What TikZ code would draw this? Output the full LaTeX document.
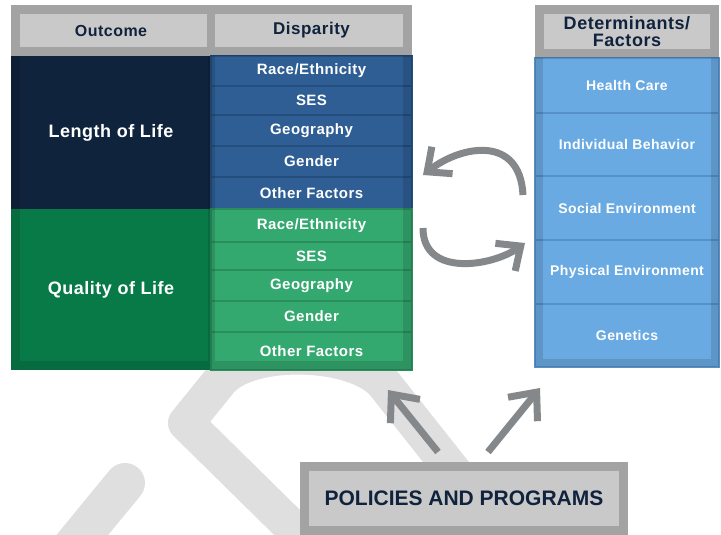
\documentclass[tikz,border=0pt]{standalone}
\usepackage{fontspec}
\setmainfont{Liberation Sans}
\newfontfamily\cellfont{Liberation Sans}[LetterSpace=3]
\usetikzlibrary{positioning, arrows.meta}
\definecolor{my_navy}{RGB}{16, 35, 61}
\definecolor{my_blue}{RGB}{46, 94, 147}
\definecolor{my_blueline}{RGB}{36, 78, 125}
\definecolor{my_darkgreen}{RGB}{7, 122, 72}
\definecolor{my_green}{RGB}{51, 168, 111}
\definecolor{my_greenline}{RGB}{42, 143, 93}
\definecolor{my_sky}{RGB}{106, 170, 226}
\definecolor{my_skyline}{RGB}{86, 144, 199}
\definecolor{my_hdr}{RGB}{201, 201, 201}
\definecolor{my_arrow}{RGB}{133, 136, 139}
\definecolor{my_mark}{RGB}{223, 223, 223}
\tikzset {
  hdr/.style = {fill=my_hdr, text=my_navy, inner sep=0pt, outer sep=0pt, align=center},
  bigcell/.style = {text=white, inner sep=0pt, outer sep=0pt, minimum width=200pt, font=\cellfont\bfseries\fontsize{18}{20}\selectfont},
  dispcell/.style = {text=white, inner sep=0pt, outer sep=0pt, minimum width=201pt, line width=2.5pt, font=\cellfont\bfseries\fontsize{15}{17}\selectfont},
  bluecell/.style = {dispcell, fill=my_blue, draw=my_blueline},
  greencell/.style = {dispcell, fill=my_green, draw=my_greenline},
  factcell/.style = {text=white, inner sep=0pt, outer sep=0pt, minimum width=184pt, fill=my_sky, draw=my_skyline, line width=2.5pt, font=\cellfont\bfseries\fontsize{14}{16}\selectfont},
  frame/.style = {draw=black, draw opacity=0.19, line width=9pt},
  cellframe/.style = {draw=black, draw opacity=0.12, line width=9pt},
  watermark/.style = {draw=my_mark, line width=36pt, line join=round},
  cyclearrow/.style = {draw=my_arrow, line width=7pt, -{Straight Barb[length=19pt, width=34pt]}},
  policyarrow/.style = {draw=my_arrow, line width=7pt, -{Straight Barb[length=22pt, width=38pt]}}
}

\begin{document}
\begin{tikzpicture}[x=1pt, y=1pt, node distance=0pt]
    \useasboundingbox (0,0) rectangle (721,-535);

    % watermark behind everything
    \draw[watermark] (310,-545) -- (186,-423) -- (220,-381) to[out=50, in=128, looseness=0.7] (385,-385) -- (480,-505);
    \draw[watermark, line width=40pt, line cap=round] (70,-550) -- (125,-483);

    % outcome / disparity table
    \node[hdr, minimum width=200pt, minimum height=51pt, anchor=north west, font=\cellfont\bfseries\fontsize{16}{18}\selectfont] (outcome) at (11,-5) {Outcome};
    \node[hdr, minimum width=201pt, minimum height=51pt, right=of outcome, font=\cellfont\bfseries\fontsize{17}{19}\selectfont] (disparity) {Disparity};

    \node[bigcell, fill=my_navy, minimum height=153pt, below=of outcome] (lol) {Length of Life};
    \node[bigcell, fill=my_darkgreen, minimum height=161pt, below=of lol] (qol) {Quality of Life};

    \node[bluecell, minimum height=30pt, below=of disparity] (race1) {Race/Ethnicity};
    \node[bluecell, minimum height=29pt, below=of race1] (ses1) {SES};
    \node[bluecell, minimum height=31pt, below=of ses1] (geo1) {Geography};
    \node[bluecell, minimum height=31pt, below=of geo1] (gender1) {Gender};
    \node[bluecell, minimum height=32pt, below=of gender1] (other1) {Other Factors};

    \node[greencell, minimum height=33pt, below=of other1] (race2) {Race/Ethnicity};
    \node[greencell, minimum height=28pt, below=of race2] (ses2) {SES};
    \node[greencell, minimum height=31pt, below=of ses2] (geo2) {Geography};
    \node[greencell, minimum height=31pt, below=of geo2] (gender2) {Gender};
    \node[greencell, minimum height=38pt, below=of gender2] (other2) {Other Factors};

    % determinants column
    \node[hdr, minimum width=184pt, minimum height=53pt, anchor=north west, font=\cellfont\bfseries\fontsize{18}{17}\selectfont] (det) at (535,-5) {Determinants/\\Factors};
    \node[factcell, minimum height=55pt, below=of det] (care) {Health Care};
    \node[factcell, minimum height=63pt, below=of care] (behav) {Individual Behavior};
    \node[factcell, minimum height=64pt, below=of behav] (social) {Social Environment};
    \node[factcell, minimum height=64pt, below=of social] (phys) {Physical Environment};
    \node[factcell, minimum height=63pt, below=of phys] (genet) {Genetics};

    \node[hdr, minimum width=328pt, minimum height=73pt, anchor=north west, font=\bfseries\fontsize{21}{23}\selectfont] (policies) at (300,-462) {POLICIES AND PROGRAMS};

    % darker edges
    \draw[frame] ([shift={(4.5,-4.5)}]outcome.north west) rectangle ([shift={(-4.5,4.5)}]disparity.south east);
    \draw[frame, line width=8pt] ([yshift=-9pt]outcome.north east) -- ([yshift=9pt]outcome.south east);
    \draw[frame] ([shift={(4.5,-4.5)}]det.north west) rectangle ([shift={(-4.5,4.5)}]det.south east);
    \draw[frame] ([shift={(4.5,-4.5)}]policies.north west) rectangle ([shift={(-4.5,4.5)}]policies.south east);
    \draw[cellframe] ([xshift=4.5pt]lol.north west) -- ([shift={(4.5,4.5)}]qol.south west) -- ([shift={(-4.5,4.5)}]other2.south east) -- ([xshift=-4.5pt]race1.north east);
    \draw[cellframe, line width=7pt] (lol.north east) -- ([yshift=9pt]qol.south east);
    \draw[cellframe, line width=8pt] ([xshift=4pt]care.north west) -- ([shift={(4,4)}]genet.south west) -- ([shift={(-4,4)}]genet.south east) -- ([xshift=-4pt]care.north east);

    % feedback arrows
    \draw[cyclearrow] ([shift={(-12,13)}]social.west) .. controls +(-3,60) and +(39,30) .. ([shift={(11,18)}]other1.east);
    \draw[cyclearrow] ([shift={(11,-2.5)}]race2.east) .. controls +(0,-50) and +(-32,-23) .. ([shift={(-10,29)}]phys.west);

    \draw[policyarrow] ([shift={(-26,10)}]policies.north) -- ([shift={(-24,-20)}]other2.south east);
    \draw[policyarrow] ([shift={(24,10)}]policies.north) -- ([shift={(5,-21)}]genet.south west);

\end{tikzpicture}
\end{document}
